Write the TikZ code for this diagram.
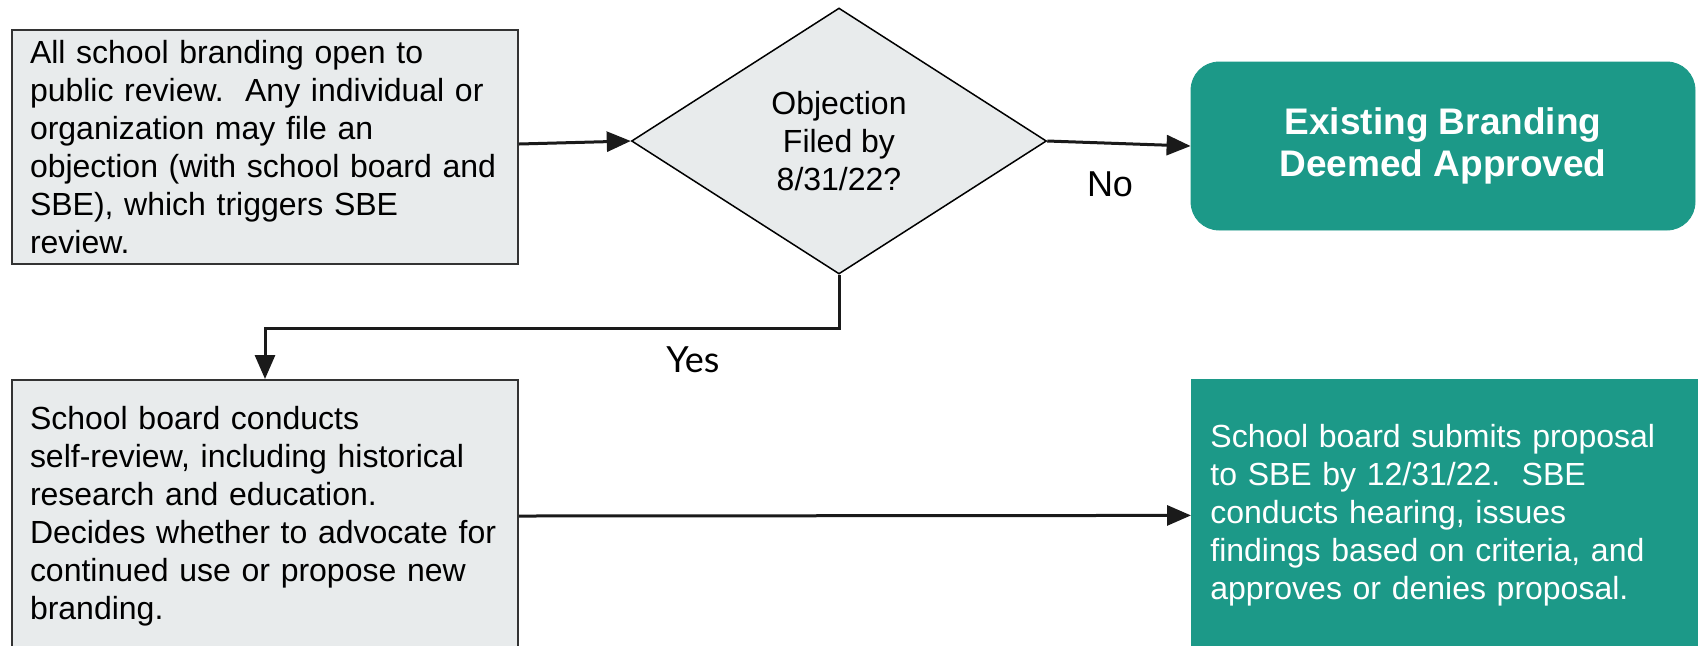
\documentclass[tikz,border=0pt]{standalone}
\usepackage{fontspec}
\setmainfont{Liberation Sans}
\newfontfamily\latofont{Lato}
\usetikzlibrary{shapes.geometric,arrows.meta}
\definecolor{boxfill}{HTML}{E8EBEC}
\definecolor{boxline}{HTML}{333333}
\definecolor{tealbox}{HTML}{1C9988}
\definecolor{arrowcol}{HTML}{1A1A1A}
\frenchspacing
\begin{document}
\begin{tikzpicture}[x=0.5pt,y=-0.5pt,
  bodyfont/.style={font=\fontsize{16}{19}\selectfont},
  procbox/.style={draw=boxline, line width=1pt, fill=boxfill, text width=235pt, align=left,
    inner xsep=9pt, inner ysep=0pt, anchor=north west, bodyfont},
  decision/.style={diamond, draw=black, line width=0.75pt, fill=boxfill, minimum width=207.5pt,
    minimum height=133pt, shape aspect=1.56, inner sep=0pt, align=center, bodyfont},
  endbox/.style={rounded corners=14pt, fill=tealbox, draw=tealbox, minimum width=252pt,
    minimum height=84pt, text=white, align=center, font=\bfseries\fontsize{18.5}{21}\selectfont},
  outbox/.style={fill=tealbox, draw=tealbox, text=white, text width=236pt, inner xsep=9.5pt,
    inner ysep=0pt, anchor=north west, align=left, bodyfont},
  conn/.style={line width=1.5pt, draw=arrowcol, -{Triangle[length=12pt,width=10pt]}},
  lbl/.style={inner sep=0pt, font=\fontsize{18}{20}\selectfont}]
\useasboundingbox (0,0) rectangle (1698,645);
\clip (0,0) rectangle (1698,645);
\fill[white] (0,0) rectangle (1698,645);

\node[procbox, minimum height=117pt] (A) at (11,29)
  {All school branding open to\\ public review.~ Any individual or\\ organization may file an\\ objection (with school board and\\ SBE), which triggers SBE\\ review.};
\node[decision] (D) at (839,141) {Objection\\Filed by\\8/31/22?};
\node[endbox] (G1) at (1443,146) {Existing Branding\\Deemed Approved};
\node[procbox, minimum height=136pt] (B) at (11,379)
  {School board conducts\\ self-review, including historical\\ research and education.\\ Decides whether to advocate for\\ continued use or propose new\\ branding.};
\node[outbox, minimum height=136pt] (G2) at (1191,379)
  {School board submits proposal\\ to SBE by 12/31/22.~ SBE\\ conducts hearing, issues\\ findings based on criteria, and\\ approves or denies proposal.};

\coordinate (turn) at (839,328);
\draw[conn] ([yshift=1.5pt]A.east) -- (D.west);
\draw[conn] (D.east) -- (G1.west);
\draw[conn] (D.south) -- (turn) -| (B.north);
\draw[conn] (B.east) -- (G2.west);

\node[lbl] (no) at (1110,184) {No};
\node[lbl, font=\latofont\fontsize{18}{20}\selectfont] (yes) at (693,360) {Yes};
\end{tikzpicture}
\end{document}
